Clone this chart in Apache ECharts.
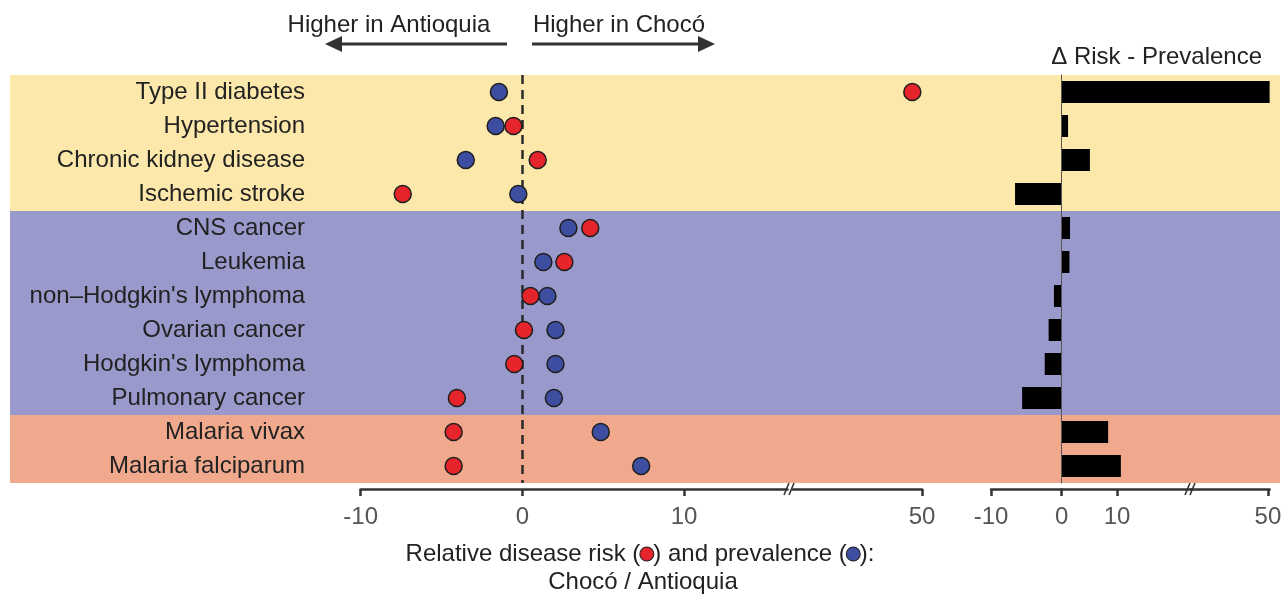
<!DOCTYPE html>
<html>
<head>
<meta charset="utf-8">
<script src="https://cdn.jsdelivr.net/npm/echarts@6/dist/echarts.min.js"></script>
<style>
html,body{margin:0;padding:0;background:#ffffff;}
#chart{width:1288px;height:596px;}
</style>
</head>
<body>
<div id="chart"></div>
<script>
// ---------------- DATA ----------------
const categories = [
  'Type II diabetes', 'Hypertension', 'Chronic kidney disease', 'Ischemic stroke',
  'CNS cancer', 'Leukemia', "non\u2013Hodgkin's lymphoma", 'Ovarian cancer',
  "Hodgkin's lymphoma", 'Pulmonary cancer', 'Malaria vivax', 'Malaria falciparum'
];
// Relative disease risk (Chocó / Antioquia) - red dots
const riskValues = [49.4, -0.55, 0.95, -7.4, 4.2, 2.6, 0.5, 0.1, -0.5, -4.05, -4.25, -4.25];
// Relative prevalence (Chocó / Antioquia) - blue dots
const prevalenceValues = [-1.45, -1.65, -3.5, -0.25, 2.85, 1.3, 1.55, 2.05, 2.05, 1.95, 4.85, 7.35];
// Δ Risk - Prevalence - black bars
const deltaValues = [50.3, 1.15, 5.1, -6.6, 1.5, 1.4, -1.1, -1.85, -2.4, -5.6, 8.4, 10.7];
// Disease groups (row index ranges) for the coloured bands
const groupStart = [0, 4, 10];
const groupEnd = [4, 10, 12];
// Tick labels
const dotTicksMain = [-10, 0, 10];
const dotTicksHigh = [50];
const barTicksNeg = [-10];
const barTicksPos = [0, 10];
const barTicksHigh = [50];
// Axis segments (broken axes)
const dotRangeMain = [-10, 16.4];
const dotRangeHigh = [42, 50];
const barRangeNeg = [-10, 0];
const barRangePos = [0, 23.6];
const barRangeHigh = [36.1, 50.3];

// ---------------- STYLE ----------------
const FONT = '"Liberation Sans", Arial, Helvetica, sans-serif';
const FS = 24;
const bandColors = ['#FCE8AB', '#9999CB', '#F0A98D'];
const RED = '#E5252B';
const BLUE = '#3D4EA0';
const TOP = 75, H = 408;
const dotScale = 16.165;      // px per unit, dot panel
const barNegScale = 7.07;     // px per unit, negative bars
const barPosScale = 5.53;     // px per unit, positive bars
const dotLeft = 360.7;
const dotHighRight = 922;
const barLeft = 991;

const g0w = (dotRangeMain[1] - dotRangeMain[0]) * dotScale;
const g1w = (dotRangeHigh[1] - dotRangeHigh[0]) * dotScale;
const g1l = dotHighRight - (50 - dotRangeHigh[0]) * dotScale;
const g2w = (barRangeNeg[1] - barRangeNeg[0]) * barNegScale;
const g3l = barLeft + g2w;
const g3w = (barRangePos[1] - barRangePos[0]) * barPosScale;
const g4l = g3l + (barRangeHigh[0] - 36.1 + 23.4) * barPosScale;
const g4w = (barRangeHigh[1] - barRangeHigh[0]) * barPosScale;

function grid(left, width) {
  return { left: left, width: width, top: TOP, height: H, containLabel: false, outerBoundsMode: 'none' };
}
function valueAxis(gridIndex, range, ticks) {
  return {
    type: 'value', gridIndex: gridIndex, min: range[0], max: range[1], z: 10, offset: 6,
    axisLine: { show: true, onZero: false, lineStyle: { color: '#333', width: 2.5 } },
    axisTick: { show: true, customValues: ticks, length: 7, lineStyle: { color: '#333', width: 2.5 } },
    axisLabel: { show: true, customValues: ticks, margin: 16, color: '#555', fontSize: FS, fontFamily: FONT },
    splitLine: { show: false }
  };
}
function catAxis(gridIndex, extra) {
  return Object.assign({
    type: 'category', gridIndex: gridIndex, data: categories, inverse: true, z: 10,
    axisLine: { show: false }, axisTick: { show: false }, axisLabel: { show: false }, splitLine: { show: false }
  }, extra || {});
}
const pairs = (arr, keep) => arr.map((v, i) => (keep(v) ? [v, categories[i]] : null)).filter(d => d);
const dotStyle = c => ({ color: c, borderColor: '#1e1e1e', borderWidth: 1.5, opacity: 1 });

function slashes(cx, cy) {
  return {
    type: 'group', z: 100, children: [
      { type: 'rect', shape: { x: cx - 6, y: cy - 3, width: 12, height: 6 }, style: { fill: '#ffffff' } },
      { type: 'line', shape: { x1: cx - 6, y1: cy + 6, x2: cx - 1, y2: cy - 6 }, style: { stroke: '#333', lineWidth: 1.6 } },
      { type: 'line', shape: { x1: cx - 1, y1: cy + 6, x2: cx + 4, y2: cy - 6 }, style: { stroke: '#333', lineWidth: 1.6 } }
    ]
  };
}

const chart = echarts.init(document.getElementById('chart'), null, { renderer: 'canvas' });
const option = {
  animation: false,
  backgroundColor: '#ffffff',
  grid: [
    grid(dotLeft, g0w),   // 0 dots main
    grid(g1l, g1w),       // 1 dots high
    grid(barLeft, g2w),   // 2 bars negative
    grid(g3l, g3w),       // 3 bars positive
    grid(g4l, g4w),       // 4 bars high
    grid(10, 1270)        // 5 background bands
  ],
  xAxis: [
    valueAxis(0, dotRangeMain, dotTicksMain),
    valueAxis(1, dotRangeHigh, dotTicksHigh),
    valueAxis(2, barRangeNeg, barTicksNeg),
    valueAxis(3, barRangePos, barTicksPos),
    valueAxis(4, barRangeHigh, barTicksHigh),
    { type: 'value', gridIndex: 5, min: 0, max: 1, show: false }
  ],
  yAxis: [
    catAxis(0, { axisLabel: { show: true, margin: dotLeft - 305, color: '#222', fontSize: FS, fontFamily: FONT } }),
    catAxis(1),
    catAxis(2),
    catAxis(3, { axisLine: { show: true, onZero: false, lineStyle: { color: '#555', width: 1 } } }),
    catAxis(4),
    { type: 'value', gridIndex: 5, min: 0, max: categories.length, inverse: true, show: false }
  ],
  series: [
    {
      type: 'line', xAxisIndex: 5, yAxisIndex: 5, data: [], z: 0, silent: true,
      markArea: {
        silent: true, z: 0,
        data: groupStart.map((s, i) => [
          { yAxis: s, itemStyle: { color: bandColors[i], opacity: 1 } },
          { yAxis: groupEnd[i] }
        ])
      }
    },
    {
      type: 'line', xAxisIndex: 0, yAxisIndex: 0, data: [], z: 2, silent: true,
      markLine: {
        silent: true, z: 2, symbol: ['none', 'none'], label: { show: false },
        lineStyle: { color: '#2a2a2a', width: 2.5, type: [9, 6] },
        data: [{ xAxis: 0 }]
      }
    },
    {
      name: 'Prevalence', type: 'scatter', xAxisIndex: 0, yAxisIndex: 0, z: 4,
      symbolSize: 17, itemStyle: dotStyle(BLUE),
      data: pairs(prevalenceValues, v => v <= dotRangeMain[1])
    },
    {
      name: 'Risk', type: 'scatter', xAxisIndex: 0, yAxisIndex: 0, z: 5,
      symbolSize: 17, itemStyle: dotStyle(RED),
      data: pairs(riskValues, v => v <= dotRangeMain[1])
    },
    {
      name: 'Risk', type: 'scatter', xAxisIndex: 1, yAxisIndex: 1, z: 5,
      symbolSize: 17, itemStyle: dotStyle(RED),
      data: pairs(riskValues, v => v >= dotRangeHigh[0])
    },
    {
      type: 'bar', xAxisIndex: 2, yAxisIndex: 2, z: 3, barWidth: 22,
      itemStyle: { color: '#000' },
      data: deltaValues.map(v => (v < 0 ? v : null))
    },
    {
      type: 'bar', xAxisIndex: 3, yAxisIndex: 3, z: 3, barWidth: 22,
      itemStyle: { color: '#000' },
      data: deltaValues.map(v => (v > 0 ? v : null))
    },
    {
      type: 'bar', xAxisIndex: 4, yAxisIndex: 4, z: 3, barWidth: 22,
      itemStyle: { color: '#000' },
      data: deltaValues.map(v => (v >= barRangeHigh[0] ? v : null))
    }
  ],
  graphic: [
    { type: 'text', z: 100, x: 389, y: 25, style: { text: 'Higher in Antioquia', textAlign: 'center', textVerticalAlign: 'middle', font: FS + 'px ' + FONT, fill: '#222' } },
    { type: 'text', z: 100, x: 619, y: 25, style: { text: 'Higher in Chocó', textAlign: 'center', textVerticalAlign: 'middle', font: FS + 'px ' + FONT, fill: '#222' } },
    { type: 'line', z: 100, shape: { x1: 507, y1: 44, x2: 338, y2: 44 }, style: { stroke: '#333', lineWidth: 3 } },
    { type: 'polygon', z: 100, shape: { points: [[325, 44], [342, 36], [342, 52]] }, style: { fill: '#333' } },
    { type: 'line', z: 100, shape: { x1: 532, y1: 44, x2: 702, y2: 44 }, style: { stroke: '#333', lineWidth: 3 } },
    { type: 'polygon', z: 100, shape: { points: [[715, 44], [698, 36], [698, 52]] }, style: { fill: '#333' } },
    { type: 'text', z: 100, x: 1262, y: 57, style: { text: '\u0394 Risk - Prevalence', textAlign: 'right', textVerticalAlign: 'middle', font: FS + 'px ' + FONT, fill: '#222' } },
    {
      type: 'text', z: 100, x: 640, y: 554,
      style: {
        text: 'Relative disease risk ({r| }) and prevalence ({b| }):',
        textAlign: 'center', textVerticalAlign: 'middle', font: FS + 'px ' + FONT, fill: '#222',
        rich: {
          r: { width: 13, height: 13, backgroundColor: RED, borderColor: '#222', borderWidth: 1, borderRadius: 7 },
          b: { width: 13, height: 13, backgroundColor: BLUE, borderColor: '#222', borderWidth: 1, borderRadius: 7 }
        }
      }
    },
    { type: 'text', z: 100, x: 643, y: 582, style: { text: 'Chocó / Antioquia', textAlign: 'center', textVerticalAlign: 'middle', font: FS + 'px ' + FONT, fill: '#222' } },
    slashes(790, 489),
    slashes(1191, 489)
  ]
};
chart.setOption(option);
</script>
</body>
</html>
